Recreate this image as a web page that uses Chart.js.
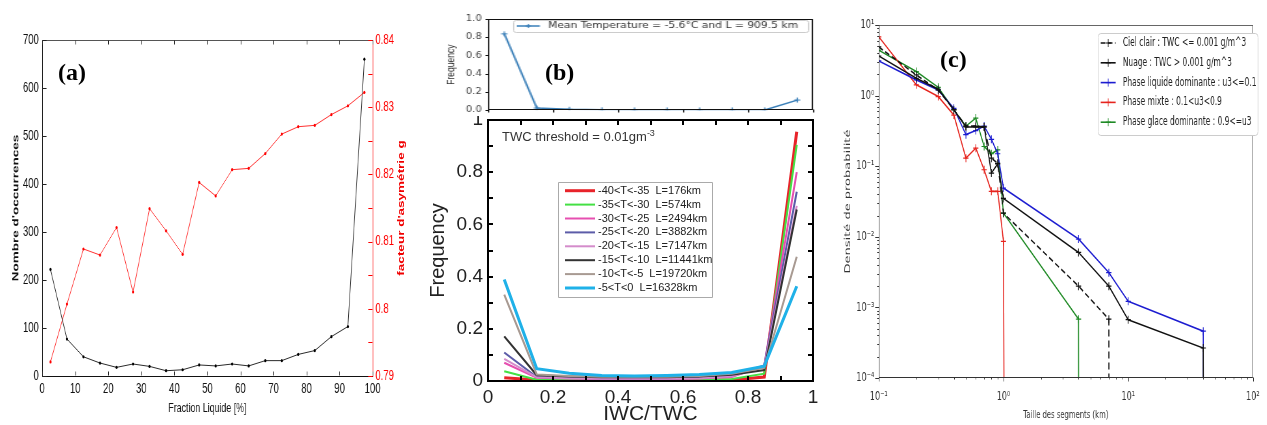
<!DOCTYPE html>
<html lang="fr">
<head>
<meta charset="utf-8">
<title>Fraction liquide, IWC/TWC et taille des segments</title>
<script src="https://cdn.jsdelivr.net/npm/chart.js@4.4.1/dist/chart.umd.min.js"></script>
<style>
    html, body { margin: 0; padding: 0; background: #fff; }
    body { position: relative; width: 1267px; height: 425px; overflow: hidden; }
    canvas { position: absolute; transform-origin: 0 0; }
    /* the source panels were resampled horizontally: (a) and (c) squeezed, (b) top stretched */
    #chartA { transform: scaleX(0.68); }
    #chartBtop { transform: scaleX(1.25); }
    #chartC { transform: scaleX(0.65); }
    .tag { position: absolute; font: bold 24px "Liberation Serif", "DejaVu Serif", serif; line-height: 1; color: #000; }
    .note { position: absolute; white-space: nowrap; }
    #gLabel { left: 401px; top: 208px; transform: translate(-50%, -50%) scaleX(0.68) rotate(-90deg);
        font: bold 13.5px "Liberation Sans", Arial, sans-serif; color: #f00000; }
    #twcNote { left: 502px; top: 125px; font: 13px "Liberation Sans", Arial, sans-serif; color: #333; line-height: 16px; }
    #twcNote sup { font-size: 9px; }
</style>
</head>
<body>
<canvas id="chartA" width="618" height="425" style="left:0;top:0"></canvas>
<canvas id="chartBtop" width="322" height="120" style="left:428px;top:0"></canvas>
<canvas id="chartB" width="402" height="309" style="left:428px;top:116px"></canvas>
<canvas id="chartC" width="672" height="425" style="left:830px;top:0"></canvas>
<div class="note" id="gLabel">facteur d'asymétrie g</div>
<div class="note" id="twcNote">TWC threshold = 0.01gm<sup>-3</sup></div>
<div class="tag" style="left:58px;top:60px">(a)</div>
<div class="tag" style="left:545px;top:60px">(b)</div>
<div class="tag" style="left:940px;top:47px">(c)</div>

<script>
// ---- (a) nombre d'occurrences et facteur d'asymétrie ----
const fractionLiquide = [2.5, 7.5, 12.5, 17.5, 22.5, 27.5, 32.5, 37.5, 42.5, 47.5,
    52.5, 57.5, 62.5, 67.5, 72.5, 77.5, 82.5, 87.5, 92.5, 97.5];
const nombreOccurrences = [222, 77, 40, 27, 18, 25, 20, 11, 13, 23,
    21, 25, 21, 32, 32, 45, 53, 82, 103, 660];
const facteurAsymetrie = [0.7921, 0.8007, 0.8089, 0.8080, 0.8121, 0.8025, 0.8149, 0.8116, 0.8081, 0.8188,
    0.8168, 0.8207, 0.8209, 0.8231, 0.8260, 0.8271, 0.8273, 0.8289, 0.8302, 0.8322];

// ---- (b) IWC/TWC ----
const iwcBins = [0.05, 0.15, 0.25, 0.35, 0.45, 0.55, 0.65, 0.75, 0.85, 0.95];
const meanTempLabel = 'Mean Temperature = -5.6°C and L = 909.5 km';
const meanTempFreq = [0.837, 0.024, 0.010, 0.004, 0.003, 0.003, 0.003, 0.003, 0.003, 0.111];
const tempClasses = ['-40<T<-35  L=176km', '-35<T<-30  L=574km', '-30<T<-25  L=2494km', '-25<T<-20  L=3882km',
    '-20<T<-15  L=7147km', '-15<T<-10  L=11441km', '-10<T<-5  L=19720km', '-5<T<0  L=16328km'];
const freqM40 = [0.012, 0.004, 0.003, 0.003, 0.003, 0.003, 0.003, 0.004, 0.015, 0.955];
const freqM35 = [0.037, 0.005, 0.004, 0.003, 0.003, 0.003, 0.004, 0.008, 0.028, 0.905];
const freqM30 = [0.070, 0.012, 0.010, 0.008, 0.008, 0.008, 0.010, 0.015, 0.058, 0.800];
const freqM25 = [0.109, 0.015, 0.012, 0.010, 0.010, 0.010, 0.012, 0.020, 0.060, 0.725];
const freqM20 = [0.085, 0.014, 0.011, 0.009, 0.009, 0.009, 0.011, 0.018, 0.055, 0.671];
const freqM15 = [0.171, 0.022, 0.017, 0.014, 0.014, 0.014, 0.017, 0.024, 0.042, 0.657];
const freqM10 = [0.331, 0.025, 0.019, 0.016, 0.016, 0.016, 0.019, 0.028, 0.050, 0.476];
const freqM5 = [0.389, 0.047, 0.030, 0.021, 0.019, 0.021, 0.025, 0.033, 0.057, 0.363];

// ---- (c) densité de probabilité de la taille des segments (0 = bin vide) ----
const tailleSegments = [0.1, 0.2, 0.3, 0.4, 0.5, 0.6, 0.7, 0.8, 0.9, 1, 4, 7, 10, 40, 70];
const phaseLabels = ['Ciel clair : TWC <= 0.001 g/m^3', 'Nuage : TWC > 0.001 g/m^3',
    'Phase liquide dominante : u3<=0.1', 'Phase mixte : 0.1<u3<0.9', 'Phase glace dominante : 0.9<=u3'];
const densCielClair = [4.9, 1.96, 1.2, 0.63, 0.37, 0.37, 0.36, 0.13, 0.11, 0.0216, 0.002, 0.00068, 0, 0, 0];
const densNuage = [3.64, 1.76, 1.23, 0.63, 0.36, 0.36, 0.36, 0.08, 0.108, 0.035, 0.006, 0.002, 0.00067, 0.000266, 0];
const densLiquide = [3.1, 1.67, 1.2, 0.66, 0.28, 0.32, 0.37, 0.24, 0.15, 0.049, 0.0093, 0.0031, 0.00122, 0.00046, 0];
const densMixte = [6.8, 1.42, 0.97, 0.53, 0.13, 0.18, 0.089, 0.044, 0.044, 0.0086, 0, 0, 0, 0, 0];
const densGlace = [4.4, 2.19, 1.31, 0.63, 0.37, 0.48, 0.19, 0.15, 0.17, 0.0216, 0.00068, 0, 0, 0, 0];

const ARIAL = '"Liberation Sans", Arial, sans-serif';
const DEJAVU = '"DejaVu Sans", sans-serif';
const SUP = { '-': '⁻', '0': '⁰', '1': '¹', '2': '²', '3': '³', '4': '⁴', '5': '⁵', '6': '⁶', '7': '⁷', '8': '⁸', '9': '⁹' };

/**
 * Frame around the plot area + tick marks taken from each scale's ticks
 */
const axisMarks = {
    id: 'axisMarks',
    afterDatasetsDraw(chart, args, opts) {
        const ctx = chart.ctx;
        const a = chart.chartArea;
        const w = opts.width || 1;
        const h = w % 2 ? 0.5 : 0;
        const L = Math.round(a.left) + h, R = Math.round(a.right) - h;
        const T = Math.round(a.top) + h, B = Math.round(a.bottom) - h;

        ctx.save();
        ctx.lineWidth = w;
        ctx.lineCap = 'square';
        const edge = (color, x1, y1, x2, y2) => {
            if (!color) return;
            ctx.strokeStyle = color;
            ctx.beginPath();
            ctx.moveTo(x1, y1);
            ctx.lineTo(x2, y2);
            ctx.stroke();
        };
        edge(opts.top, L, T, R, T);
        edge(opts.bottom, L, B, R, B);
        edge(opts.left, L, T, L, B);
        edge(opts.right, R, T, R, B);

        ctx.lineCap = 'butt';
        (opts.marks || []).forEach(m => {
            const scale = chart.scales[m.axis];
            if (!scale) return;
            const mw = m.width || 1;
            const dir = m.out ? -1 : 1;
            ctx.strokeStyle = m.color;
            ctx.lineWidth = mw;
            scale.ticks.forEach(t => {
                const p = Math.round(scale.getPixelForValue(t.value)) + (mw % 2 ? 0.5 : 0);
                const len = (t.label === '' && m.minor) ? m.minor : m.len;
                ctx.beginPath();
                m.sides.forEach(side => {
                    if (side === 'bottom') { ctx.moveTo(p, B); ctx.lineTo(p, B - dir * len); }
                    if (side === 'top') { ctx.moveTo(p, T); ctx.lineTo(p, T + dir * len); }
                    if (side === 'left') { ctx.moveTo(L, p); ctx.lineTo(L + dir * len, p); }
                    if (side === 'right') { ctx.moveTo(R, p); ctx.lineTo(R - dir * len, p); }
                });
                ctx.stroke();
            });
        });
        ctx.restore();
    }
};

/**
 * Legend box drawn inside the plot area
 */
const boxLegend = {
    id: 'boxLegend',
    afterDraw(chart, args, o) {
        if (!o.box) return;
        const ctx = chart.ctx;
        const [bx, by, bw, bh] = o.box;
        ctx.save();
        ctx.fillStyle = '#fff';
        ctx.strokeStyle = o.edge;
        ctx.lineWidth = 1;
        ctx.beginPath();
        ctx.roundRect(bx + 0.5, by + 0.5, bw, bh, o.radius || 0);
        ctx.fill();
        ctx.stroke();
        ctx.font = o.font;
        ctx.textBaseline = 'middle';
        chart.data.datasets.forEach((ds, i) => {
            const y = by + o.first + i * o.row;
            const x0 = bx + o.pad, x1 = x0 + o.sample;
            ctx.strokeStyle = ds.borderColor;
            ctx.lineWidth = ds.borderWidth;
            ctx.setLineDash(ds.borderDash || []);
            ctx.beginPath();
            ctx.moveTo(x0, y);
            ctx.lineTo(x1, y);
            ctx.stroke();
            ctx.setLineDash([]);
            if (o.marker) {
                const xm = (x0 + x1) / 2, r = o.marker;
                ctx.lineWidth = 1;
                ctx.beginPath();
                ctx.moveTo(xm - r, y); ctx.lineTo(xm + r, y);
                ctx.moveTo(xm, y - r); ctx.lineTo(xm, y + r);
                ctx.stroke();
            }
            ctx.fillStyle = o.color;
            ctx.fillText(ds.label, bx + o.textX, y);
        });
        ctx.restore();
    }
};

const Figure = {

    init() {
        this.renderPanelA();
        this.renderPanelBTop();
        this.renderPanelB();
        this.renderPanelC();
    },

    xy(xs, ys) {
        return xs.map((x, i) => ({ x, y: ys[i] }));
    },

    /**
     * (a) occurrences (left axis) and asymmetry factor g (right axis)
     */
    renderPanelA() {
        const tickFont = { family: ARIAL, size: 14 };
        new Chart(document.getElementById('chartA'), {
            type: 'line',
            data: {
                datasets: [{
                    label: "Nombre d'occurrences",
                    data: this.xy(fractionLiquide, nombreOccurrences),
                    yAxisID: 'y',
                    borderColor: '#2a2a2a',
                    borderWidth: 1,
                    pointRadius: 1.6,
                    pointBackgroundColor: '#000',
                    pointBorderWidth: 0
                }, {
                    label: "facteur d'asymétrie g",
                    data: this.xy(fractionLiquide, facteurAsymetrie),
                    yAxisID: 'y1',
                    borderColor: '#ff3030',
                    borderWidth: 1,
                    pointRadius: 1.6,
                    pointBackgroundColor: '#f00',
                    pointBorderWidth: 0
                }]
            },
            options: {
                responsive: false,
                animation: false,
                layout: { padding: { top: 40, left: 0, right: 0, bottom: 0 } },
                plugins: {
                    legend: { display: false },
                    tooltip: { enabled: false },
                    axisMarks: {
                        top: '#555',
                        marks: [
                            { axis: 'x', sides: ['bottom', 'top'], len: 4, color: '#222' },
                            { axis: 'y', sides: ['left'], len: 6, color: '#222' },
                            { axis: 'y1', sides: ['right'], len: 6, color: '#f00' }
                        ]
                    }
                },
                scales: {
                    x: {
                        type: 'linear', min: 0, max: 100,
                        ticks: { stepSize: 10, autoSkip: false, maxRotation: 0, padding: 5, font: tickFont, color: '#111' },
                        grid: { display: false, drawTicks: false },
                        border: { color: '#111' },
                        title: { display: true, text: 'Fraction Liquide [%]', color: '#111',
                            font: { family: ARIAL, size: 13 }, padding: { top: 0, bottom: 9 } },
                        afterFit: s => { s.height = 49; }
                    },
                    y: {
                        min: 0, max: 700,
                        ticks: { stepSize: 100, autoSkip: false, padding: 5, font: tickFont, color: '#111' },
                        grid: { display: false, drawTicks: false },
                        border: { color: '#111' },
                        title: { display: true, text: "Nombre d'occurrences", color: '#111',
                            font: { family: ARIAL, size: 13.5, weight: 'bold' }, padding: { top: 15, bottom: 0 } },
                        afterFit: s => { s.width = 62; }
                    },
                    y1: {
                        position: 'right', min: 0.79, max: 0.84,
                        ticks: {
                            stepSize: 0.005, autoSkip: false, padding: 4, font: tickFont, color: '#f00',
                            callback: v => {
                                const r = Math.round(v * 1000);
                                return r % 10 === 0 ? String(r / 1000) : '';
                            }
                        },
                        grid: { display: false, drawTicks: false },
                        border: { color: '#f00' },
                        afterFit: s => { s.width = 70; }
                    }
                }
            },
            plugins: [axisMarks]
        });
    },

    /**
     * (b) upper strip: mean temperature curve
     */
    renderPanelBTop() {
        new Chart(document.getElementById('chartBtop'), {
            type: 'line',
            data: {
                datasets: [{
                    label: meanTempLabel,
                    data: this.xy(iwcBins, meanTempFreq),
                    borderColor: '#3a7fb8',
                    borderWidth: 1.5,
                    pointStyle: 'cross',
                    pointRadius: 2.5,
                    pointBorderWidth: 1
                }]
            },
            options: {
                responsive: false,
                animation: false,
                layout: { padding: { top: 19, left: 0, right: 13.6, bottom: 0 } },
                plugins: {
                    legend: { display: false },
                    tooltip: { enabled: false },
                    axisMarks: {
                        top: '#111', bottom: '#111', left: '#111', right: '#111',
                        marks: [
                            { axis: 'x', sides: ['bottom'], len: 3, out: true, color: '#111' },
                            { axis: 'y', sides: ['left'], len: 2.5, out: true, color: '#111' }
                        ]
                    },
                    boxLegend: {
                        box: [68, 20, 236, 12], edge: '#ccc', radius: 2,
                        first: 6, row: 12, pad: 3, sample: 18.5, textX: 28, marker: 2,
                        font: '8.6px "DejaVu Sans", sans-serif', color: '#333'
                    }
                },
                scales: {
                    x: {
                        type: 'linear', min: 0, max: 1,
                        ticks: { stepSize: 0.2, display: false },
                        grid: { display: false, drawTicks: false },
                        border: { display: false },
                        afterFit: s => { s.height = 5; }
                    },
                    y: {
                        min: 0, max: 1,
                        ticks: { stepSize: 0.2, autoSkip: false, padding: 5, color: '#444',
                            font: { family: DEJAVU, size: 8 },
                            callback: v => v.toFixed(1) },
                        grid: { display: false, drawTicks: false },
                        border: { display: false },
                        title: { display: true, text: 'Frequency', color: '#333',
                            font: { family: ARIAL, size: 8.5 }, padding: { top: 14, bottom: 0 } },
                        afterFit: s => { s.width = 48; }
                    }
                }
            },
            plugins: [axisMarks, boxLegend]
        });
    },

    /**
     * (b) main plot: frequency per temperature class
     */
    renderPanelB() {
        const series = [freqM40, freqM35, freqM30, freqM25, freqM20, freqM15, freqM10, freqM5];
        const colors = ['#e8232a', '#44e044', '#e64fb0', '#5c5ca8', '#d48ccb', '#333333', '#a89a92', '#1fb1e8'];
        const widths = [3, 2, 2, 2, 2, 2, 2, 3];
        const tenths = v => {
            const k = Math.round(v * 10);
            return k % 2 ? '' : String(k / 10);
        };
        const tickFont = { family: ARIAL, size: 19 };

        new Chart(document.getElementById('chartB'), {
            type: 'line',
            data: {
                datasets: series.map((vals, i) => ({
                    label: tempClasses[i],
                    data: this.xy(iwcBins, vals),
                    borderColor: colors[i],
                    borderWidth: widths[i],
                    pointRadius: 0,
                    order: series.length - 1 - i
                }))
            },
            options: {
                responsive: false,
                animation: false,
                layout: { padding: { top: 4, left: 0, right: 17, bottom: 0 } },
                plugins: {
                    legend: { display: false },
                    tooltip: { enabled: false },
                    axisMarks: {
                        width: 2,
                        top: '#000', bottom: '#000', left: '#000', right: '#000',
                        marks: [
                            { axis: 'x', sides: ['bottom', 'top'], len: 5, width: 2, color: '#000' },
                            { axis: 'y', sides: ['left', 'right'], len: 5, width: 2, color: '#000' }
                        ]
                    },
                    boxLegend: {
                        box: [130, 66, 154, 115], edge: '#aaa', radius: 0,
                        first: 8.7, row: 13.9, pad: 7, sample: 30, textX: 40,
                        font: '11px "Liberation Sans", Arial, sans-serif', color: '#222'
                    }
                },
                scales: {
                    x: {
                        type: 'linear', min: 0, max: 1,
                        ticks: { stepSize: 0.1, autoSkip: false, maxRotation: 0, padding: 5,
                            font: tickFont, color: '#222', callback: tenths },
                        grid: { display: false, drawTicks: false },
                        border: { display: false },
                        title: { display: true, text: 'IWC/TWC', color: '#222',
                            font: { family: ARIAL, size: 21, lineHeight: 1 }, padding: { top: 0, bottom: 0 } },
                        afterFit: s => { s.height = 44; }
                    },
                    y: {
                        min: 0, max: 1,
                        ticks: { stepSize: 0.1, autoSkip: false, padding: 5,
                            font: tickFont, color: '#222', callback: tenths },
                        grid: { display: false, drawTicks: false },
                        border: { display: false },
                        title: { display: true, text: 'Frequency', color: '#222',
                            font: { family: ARIAL, size: 20, lineHeight: 1 }, padding: { top: 0, bottom: 0 } },
                        afterFit: s => {
                            s.width = 60;
                            // the top "1" may spill over the strip above, as in the figure
                            s.paddingTop = 0;
                            s.paddingBottom = 0;
                        }
                    }
                }
            },
            plugins: [axisMarks, boxLegend]
        });
    },

    /**
     * Decade ticks 1..9 x 10^n for the log axes of (c)
     */
    logTicks(scale) {
        const ticks = [];
        const e0 = Math.floor(Math.log10(scale.min));
        const e1 = Math.ceil(Math.log10(scale.max));
        for (let e = e0; e <= e1; e++) {
            for (let m = 1; m <= 9; m++) {
                const v = m * Math.pow(10, e);
                if (v >= scale.min * 0.999 && v <= scale.max * 1.001) ticks.push({ value: v });
            }
        }
        scale.ticks = ticks;
    },

    powerLabel(v) {
        const e = Math.log10(v);
        if (Math.abs(e - Math.round(e)) > 1e-6) return '';
        return '10' + String(Math.round(e)).split('').map(c => SUP[c]).join('');
    },

    /**
     * (c) probability density of segment length, log-log
     */
    renderPanelC() {
        const series = [densCielClair, densNuage, densLiquide, densMixte, densGlace];
        const colors = ['#111111', '#111111', '#1c1cd0', '#e6241e', '#1f8a25'];
        const tickFont = { family: DEJAVU, size: 12.5 };

        new Chart(document.getElementById('chartC'), {
            type: 'line',
            data: {
                datasets: series.map((vals, i) => ({
                    label: phaseLabels[i],
                    // an empty bin falls off the log axis, like matplotlib's clipping
                    data: tailleSegments.map((x, k) => ({ x, y: vals[k] > 0 ? vals[k] : 1e-300 })),
                    borderColor: colors[i],
                    borderWidth: 1.6,
                    borderDash: i === 0 ? [7, 4] : [],
                    pointStyle: 'cross',
                    pointRadius: 4,
                    pointBorderWidth: 1.2,
                    pointBorderColor: colors[i]
                }))
            },
            options: {
                responsive: false,
                animation: false,
                layout: { padding: { top: 25, left: 0, right: 9, bottom: 0 } },
                plugins: {
                    legend: { display: false },
                    tooltip: { enabled: false },
                    axisMarks: {
                        top: '#666', bottom: '#333', left: '#333', right: '#666',
                        marks: [
                            { axis: 'x', sides: ['bottom'], len: 4, minor: 2, out: true, color: '#333' },
                            { axis: 'y', sides: ['left'], len: 6, minor: 3, out: true, color: '#333' }
                        ]
                    },
                    boxLegend: {
                        box: [412, 33, 246, 102], edge: '#ccc', radius: 4,
                        first: 10, row: 19.8, pad: 4.5, sample: 23, textX: 38.5, marker: 4,
                        font: '11.5px "DejaVu Sans", sans-serif', color: '#222'
                    }
                },
                scales: {
                    x: {
                        type: 'logarithmic', min: 0.1, max: 100,
                        afterBuildTicks: s => this.logTicks(s),
                        ticks: { autoSkip: false, maxRotation: 0, padding: 11, font: tickFont, color: '#333',
                            callback: v => this.powerLabel(v) },
                        grid: { display: false, drawTicks: false },
                        border: { display: false },
                        title: { display: true, text: 'Taille des segments (km)', color: '#333',
                            font: { family: DEJAVU, size: 10.5 }, padding: { top: 0, bottom: 3 } },
                        afterFit: s => { s.height = 47; }
                    },
                    y: {
                        type: 'logarithmic', min: 1e-4, max: 10,
                        afterBuildTicks: s => this.logTicks(s),
                        ticks: { autoSkip: false, padding: 7, font: tickFont, color: '#333',
                            callback: v => this.powerLabel(v) },
                        grid: { display: false, drawTicks: false },
                        border: { display: false },
                        title: { display: true, text: 'Densité de probabilité', color: '#333',
                            font: { family: DEJAVU, size: 13 }, padding: { top: 20, bottom: 0 } },
                        afterFit: s => {
                            s.width = 75;
                            s.paddingTop = 0;
                            s.paddingBottom = 0;
                        }
                    }
                }
            },
            plugins: [axisMarks, boxLegend]
        });
    }
};

Figure.init();
</script>
</body>
</html>
